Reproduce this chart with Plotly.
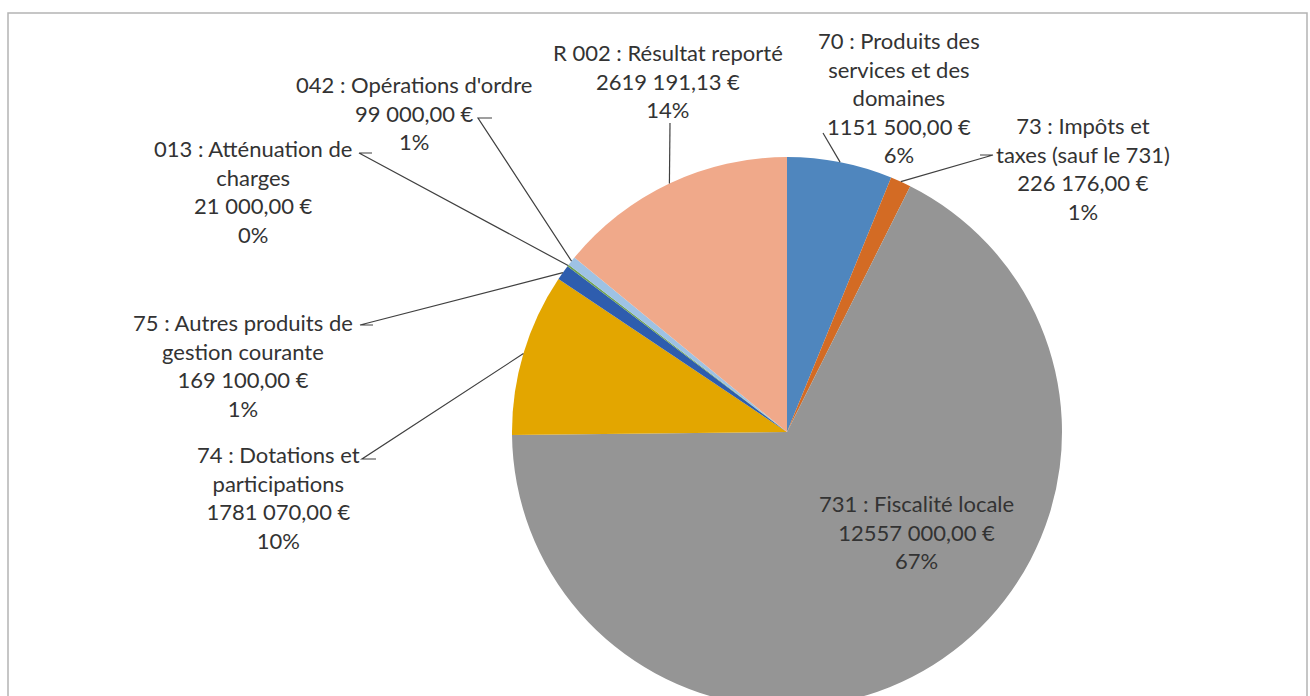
import math
import plotly.graph_objects as go

# ---- data ----
codes = ["70", "73", "731", "74", "75", "013", "042", "R 002"]
names = [
    "Produits des<br>services et des<br>domaines",
    "Impôts et<br>taxes (sauf le 731)",
    "Fiscalité locale",
    "Dotations et<br>participations",
    "Autres produits de<br>gestion courante",
    "Atténuation de<br>charges",
    "Opérations d'ordre",
    "Résultat reporté",
]
values = [1151500.00, 226176.00, 12557000.00, 1781070.00, 169100.00, 21000.00, 99000.00, 2619191.13]
colors = ["#4F86BE", "#D36B24", "#959595", "#E3A600", "#2E5DAE", "#6FA150", "#9EC2E4", "#F0A98A"]

# ---- layout constants (pixels) ----
W, H = 1310, 720
CX, CY, R = 787, 432, 275
FONT = "Lato"
FS = 22
TXT = "#333333"

# label block centres (px) and leader-line start points (px)
label_pos = [(899, 98), (1083, 168), (917, 532), (278, 497), (243, 365), (253, 192), (414, 113), (668, 81)]
leader_start = [
    [(823, 133)],
    [(993, 155), (980, 155)],
    None,
    [(362, 459), (376, 459)],
    [(360, 325), (373, 325)],
    [(359, 153), (372, 153)],
    [(478, 118), (492, 118)],
    [(670, 123)],
]


def fmt_money(v):
    s = f"{v:.2f}"
    ip, dp = s.split(".")
    if len(ip) > 3:
        ip = ip[:-3] + " " + ip[-3:]
    return f"{ip},{dp} €"


def px(x):
    return x / W


def py(y):
    return 1 - y / H


total = sum(values)

fig = go.Figure()
fig.add_trace(go.Pie(
    values=values,
    labels=codes,
    sort=False,
    direction="clockwise",
    rotation=0,
    marker=dict(colors=colors, line=dict(width=0)),
    textinfo="none",
    hoverinfo="skip",
    showlegend=False,
    domain=dict(x=[px(CX - R), px(CX + R)], y=[py(CY + R), py(CY - R)]),
))

annotations = []
shapes = []
cum = 0.0
for i, (c, n, v) in enumerate(zip(codes, names, values)):
    frac = v / total
    mid = 2 * math.pi * (cum + frac / 2)
    cum += frac
    text = f"{c} : {n}<br>{fmt_money(v)}<br>{round(frac * 100)}%"
    lx, ly = label_pos[i]
    annotations.append(dict(
        x=px(lx), y=py(ly), xref="paper", yref="paper",
        text=text, showarrow=False, align="center",
        xanchor="center", yanchor="middle",
        font=dict(family=FONT, size=FS, color=TXT),
    ))
    if leader_start[i]:
        ex = CX + R * math.sin(mid)
        ey = CY - R * math.cos(mid)
        pts = leader_start[i][::-1] + [(ex, ey)]
        path = "M " + " L ".join(f"{px(a):.5f} {py(b):.5f}" for a, b in pts)
        shapes.append(dict(type="path", xref="paper", yref="paper", path=path,
                           line=dict(color="#404040", width=1.2)))

# chart border
shapes.append(dict(type="rect", xref="paper", yref="paper",
                   x0=px(8), x1=px(1307), y0=py(712), y1=py(13),
                   line=dict(color="#B4B4B4", width=1.5), fillcolor="rgba(0,0,0,0)"))

fig.update_layout(
    width=W, height=H,
    margin=dict(l=0, r=0, t=0, b=0),
    paper_bgcolor="white", plot_bgcolor="white",
    annotations=annotations, shapes=shapes,
)

fig.write_html(
    "out.html",
    config={"displayModeBar": False},
    post_script="document.body.style.margin='0';document.body.style.overflow='hidden';"
                "document.documentElement.style.overflow='hidden';",
)
